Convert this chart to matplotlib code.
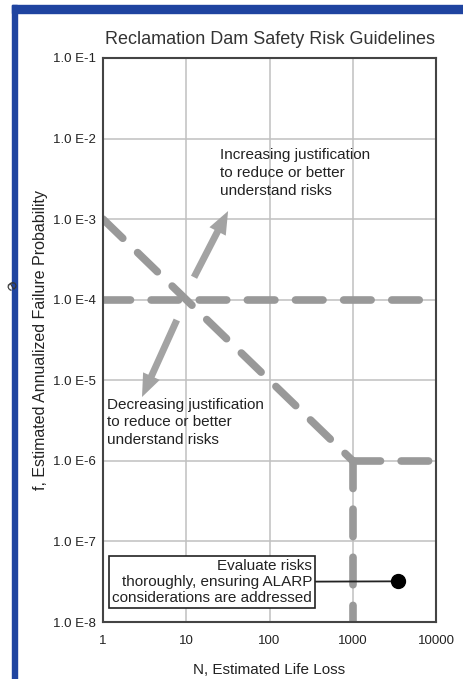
import matplotlib.pyplot as plt
from matplotlib.patches import Rectangle

plt.rcParams['font.family'] = ['Liberation Sans', 'DejaVu Sans']

x_ticks = [1, 10, 100, 1000, 10000]
x_labels = ['1', '10', '100', '1000', '10000']
y_ticks = [1e-1, 1e-2, 1e-3, 1e-4, 1e-5, 1e-6, 1e-7, 1e-8]
y_labels = ['1.0 E-1', '1.0 E-2', '1.0 E-3', '1.0 E-4', '1.0 E-5', '1.0 E-6', '1.0 E-7', '1.0 E-8']

# guideline segments (N, f)
limit_h1_n = [1, 10000]
limit_h1_f = [1e-4, 1e-4]
diag_n = [1, 1000]
diag_f = [1e-3, 1e-6]
limit_h2_n = [1000, 10000]
limit_h2_f = [1e-6, 1e-6]
limit_v_n = [1000, 1000]
limit_v_f = [1e-6, 1e-8]

up_arrow = [(12.4, 1.9e-4), (31.8, 1.26e-3)]
down_arrow = [(7.7, 5.6e-5), (2.94, 6.2e-6)]
alarp_point = (3500, 3.2e-8)

fig = plt.figure(figsize=(4.63, 6.79), dpi=100)
ax = fig.add_axes([0.2225, 0.0839, 0.7192, 0.8307])

# blue frame of the slide
fig.patches.append(Rectangle((0.0259, 0.9809), 0.98, 0.0117, transform=fig.transFigure,
                             color='#1f44a0', zorder=0))
fig.patches.append(Rectangle((0.0259, 0), 0.0108, 0.9926, transform=fig.transFigure,
                             color='#1f44a0', zorder=0))
fig.text(0.004, 0.572, 'e', fontsize=12, rotation=-60, color='#333333')

ax.set_xscale('log')
ax.set_yscale('log')
ax.set_xlim(1, 10000)
ax.set_ylim(1e-8, 1e-1)
ax.set_xticks(x_ticks)
ax.set_xticklabels(x_labels)
ax.set_yticks(y_ticks)
ax.set_yticklabels(y_labels)
ax.minorticks_off()
ax.tick_params(length=0, labelsize=9.5, colors='#222222')
ax.tick_params(axis='x', pad=9)
ax.tick_params(axis='y', pad=5)
ax.grid(True, color='#c0c0c0', linewidth=1.1)
ax.set_axisbelow(True)
for s in ax.spines.values():
    s.set_color('#444444')
    s.set_linewidth(1.5)

dash_kw = dict(color='#999999', linewidth=5.5, dashes=(3.6, 2.7), solid_capstyle='round',
               dash_capstyle='round')
ax.plot(limit_h1_n, limit_h1_f, **dash_kw)
ax.plot(diag_n, diag_f, **dash_kw)
ax.plot(limit_h2_n, limit_h2_f, **dash_kw)
ax.plot(limit_v_n, limit_v_f, **dash_kw)

arrow_kw = dict(arrowstyle='simple,head_length=1.5,head_width=1.2,tail_width=0.45',
                fc='#a3a3a3', ec='none', mutation_scale=11, shrinkA=0, shrinkB=0)
ax.annotate('', xy=up_arrow[1], xytext=up_arrow[0], arrowprops=arrow_kw)
ax.annotate('', xy=down_arrow[1], xytext=down_arrow[0], arrowprops=arrow_kw)

ax.text(0.352, 0.84, 'Increasing justification\nto reduce or better\nunderstand risks',
        transform=ax.transAxes, fontsize=11, va='top', ha='left', color='#222222',
        linespacing=1.35)
ax.text(0.012, 0.398, 'Decreasing justification\nto reduce or better\nunderstand risks',
        transform=ax.transAxes, fontsize=11, va='top', ha='left', color='#222222',
        linespacing=1.35)

ax.plot(alarp_point[0], alarp_point[1], 'o', color='black', markersize=10, zorder=5)
ax.annotate('Evaluate risks\nthoroughly, ensuring ALARP\nconsiderations are addressed',
            xy=alarp_point, xytext=(0.628, 0.071), textcoords='axes fraction',
            ha='right', va='center', fontsize=11, color='#222222', linespacing=1.2,
            bbox=dict(boxstyle='square,pad=0.2', fc='white', ec='#222222', lw=1.2),
            arrowprops=dict(arrowstyle='-', color='#222222', lw=1.3, shrinkA=0, shrinkB=0),
            zorder=4)

ax.set_title('Reclamation Dam Safety Risk Guidelines', fontsize=13, color='#333333', pad=10)
ax.set_xlabel('N, Estimated Life Loss', fontsize=11, color='#222222', labelpad=12)
ax.set_ylabel('f, Estimated Annualized Failure Probability', fontsize=11.5, color='#222222',
              labelpad=4)

plt.savefig('out.png', dpi=100)
